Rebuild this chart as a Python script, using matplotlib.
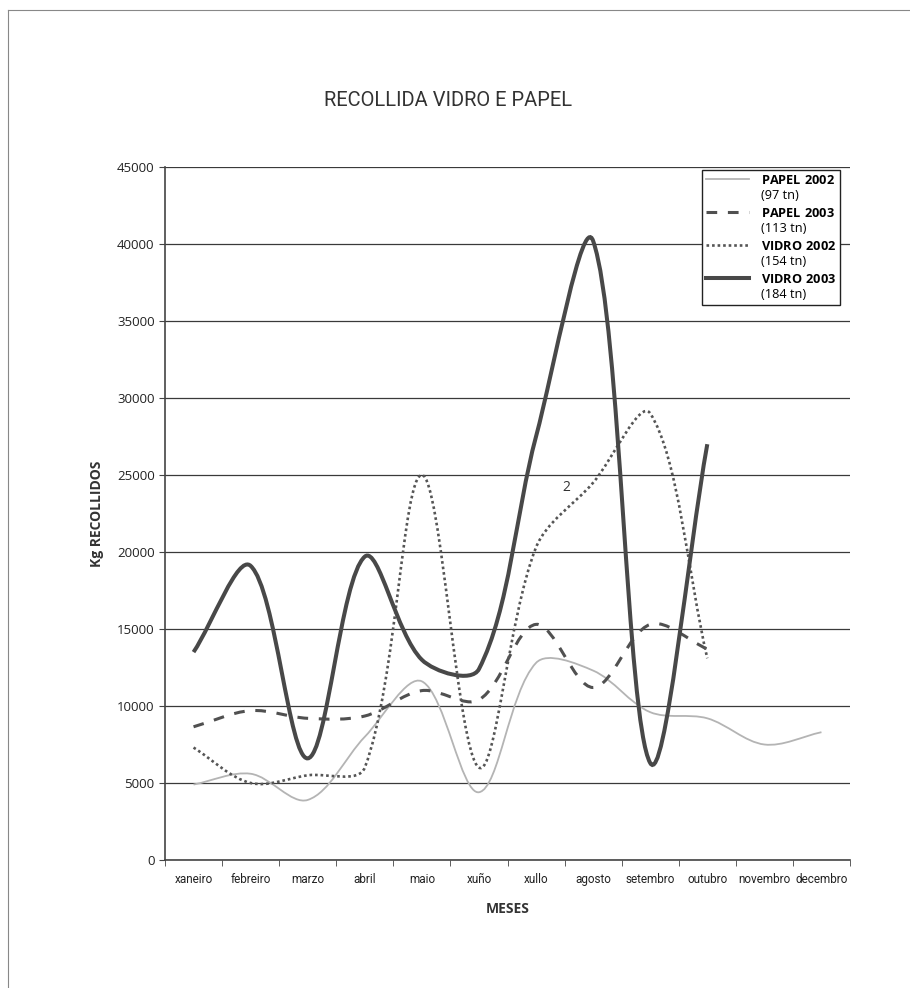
import numpy as np
import matplotlib
matplotlib.use('Agg')
import matplotlib.pyplot as plt
from matplotlib.path import Path
from matplotlib.patches import PathPatch
from matplotlib.lines import Line2D
from matplotlib.legend_handler import HandlerLine2D

# Kg recollidos por mes
meses = ['xaneiro', 'febreiro', 'marzo', 'abril', 'maio', 'xuño', 'xullo',
         'agosto', 'setembro', 'outubro', 'novembro', 'decembro']
papel_2002 = [4900, 5600, 3900, 8000, 11600, 4400, 12800, 12300, 9600, 9200, 7500, 8300]
papel_2003 = [8650, 9700, 9200, 9350, 11000, 10400, 15300, 11200, 15300, 13700]
vidro_2002 = [7300, 5000, 5500, 6000, 25000, 6000, 20300, 24500, 29000, 13100]
vidro_2003 = [13500, 19100, 6600, 19700, 13000, 12400, 27500, 40200, 6300, 27000]
etiquetas = ['PAPEL 2002', 'PAPEL 2003', 'VIDRO 2002', 'VIDRO 2003']
totais = ['(97 tn)', '(113 tn)', '(154 tn)', '(184 tn)']

narrow = ['Roboto', 'DejaVu Sans']
plt.rcParams['font.family'] = ['Open Sans', 'DejaVu Sans']
plt.rcParams['mathtext.fontset'] = 'custom'
plt.rcParams['mathtext.rm'] = 'Open Sans'
plt.rcParams['mathtext.bf'] = 'Open Sans:bold'


def smooth_path(ax, vals):
    "Excel style smoothed line: bezier through every point, tangents scaled by screen distance."
    x = np.arange(len(vals), dtype=float)
    y = np.array(vals, dtype=float)
    pix = ax.transData.transform(np.column_stack([x, y]))
    n = len(x)
    verts = [(x[0], y[0])]
    codes = [Path.MOVETO]
    for i in range(n - 1):
        i0 = max(i - 1, 0)
        i3 = min(i + 2, n - 1)
        d01 = np.hypot(*(pix[i] - pix[i0]))
        d12 = np.hypot(*(pix[i + 1] - pix[i]))
        d23 = np.hypot(*(pix[i3] - pix[i + 1]))
        f1 = d12 / (d01 + d12) / 3
        f2 = d12 / (d12 + d23) / 3
        c1 = (x[i] + (x[i + 1] - x[i0]) * f1, y[i] + (y[i + 1] - y[i0]) * f1)
        c2 = (x[i + 1] - (x[i3] - x[i]) * f2, y[i + 1] - (y[i3] - y[i]) * f2)
        verts += [c1, c2, (x[i + 1], y[i + 1])]
        codes += [Path.CURVE4] * 3
    return Path(verts, codes)


class TopLineHandler(HandlerLine2D):
    "puts the legend sample next to the first (bold) line of the label"
    def create_artists(self, legend, orig_handle, xdescent, ydescent, width, height, fontsize, trans):
        return super().create_artists(legend, orig_handle, xdescent, ydescent - 1.45 * fontsize,
                                      width, height, fontsize, trans)


estilos = [
    dict(color='#b4b4b4', lw=1.3, ls='-'),
    dict(color='#505050', lw=2.2, ls=(0, (3.5, 3.5))),
    dict(color='#555555', lw=1.9, ls=(0, (1, 1.1))),
    dict(color='#484848', lw=2.9, ls='-'),
]
series = [papel_2002, papel_2003, vidro_2002, vidro_2003]

fig = plt.figure(figsize=(9.1, 9.88), dpi=100)
ax = fig.add_axes([165 / 910, 128 / 988, 685 / 910, 693 / 988])
ax.set_xlim(-0.5, 11.5)
ax.set_ylim(0, 45000)

for vals, st in zip(series, estilos):
    p = PathPatch(smooth_path(ax, vals), fill=False, edgecolor=st['color'],
                  lw=st['lw'], ls=st['ls'], zorder=3)
    ax.add_patch(p)

ax.set_yticks(np.arange(0, 45001, 5000))
ax.set_xticks(np.arange(len(meses)))
ax.set_xticklabels(meses, fontsize=8.5, family=narrow, color='#222222')
ax.set_xticks(np.arange(-0.5, 12, 1), minor=True)
ax.tick_params(axis='x', which='major', length=0, pad=9)
ax.tick_params(axis='x', which='minor', length=4, color='#444444', direction='out')
ax.tick_params(axis='y', length=4, color='#444444', labelsize=9.5, labelcolor='#222222')
ax.yaxis.grid(True, color='#3a3a3a', lw=0.9)
ax.set_axisbelow(True)
for s in ['top', 'right']:
    ax.spines[s].set_visible(False)
for s in ['left', 'bottom']:
    ax.spines[s].set_color('#444444')
    ax.spines[s].set_linewidth(1.2)

ax.set_ylabel('Kg RECOLLIDOS', fontsize=10, fontweight='bold', color='#333333', labelpad=9)
ax.set_xlabel('MESES', fontsize=10, fontweight='bold', color='#333333', labelpad=12)

# etiqueta solta que aparece no orixinal
ax.text(6.53, 24200, '2', fontsize=10, color='#333333', ha='center', va='center')

handles = [Line2D([], [], color=st['color'], lw=st['lw'], ls=st['ls']) for st in estilos]
labels = [r'$\mathbf{' + e.replace(' ', r'\ ') + '}$\n' + t for e, t in zip(etiquetas, totais)]
leg = ax.legend(handles, labels, loc='upper right', bbox_to_anchor=(0.985, 0.996),
                borderaxespad=0, fontsize=9.2, frameon=True, fancybox=False,
                edgecolor='#222222', framealpha=1, handlelength=3.4,
                labelspacing=0.4, borderpad=0.3, handletextpad=0.9,
                handler_map={Line2D: TopLineHandler()})
leg.get_frame().set_linewidth(1.0)

fig.text(448 / 910, 1 - 100 / 988, 'RECOLLIDA VIDRO E PAPEL', fontsize=14.5,
         family=narrow, color='#333333', ha='center', va='center')

# marco da páxina
fig.add_artist(Line2D([8 / 910, 8 / 910], [0, 1 - 10 / 988], color='#888888', lw=0.8))
fig.add_artist(Line2D([8 / 910, 1], [1 - 10 / 988, 1 - 10 / 988], color='#888888', lw=0.8))

fig.savefig('out.png', dpi=100)
